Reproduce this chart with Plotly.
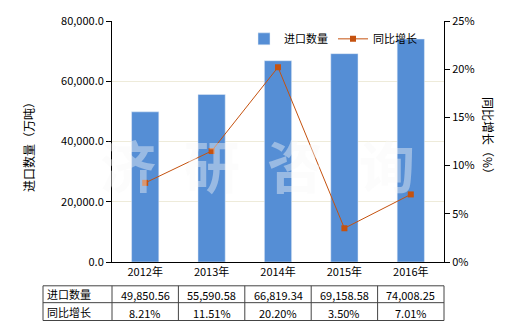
import plotly.graph_objects as go

categories = ["2012年", "2013年", "2014年", "2015年", "2016年"]
import_qty = [49850.56, 55590.58, 66819.34, 69158.58, 74008.25]
yoy_growth = [8.21, 11.51, 20.20, 3.50, 7.01]
qty_labels = ["49,850.56", "55,590.58", "66,819.34", "69,158.58", "74,008.25"]
growth_labels = ["8.21%", "11.51%", "20.20%", "3.50%", "7.01%"]
row_names = ["进口数量", "同比增长"]
watermark_chars = ["济", "研", "咨", "询"]

FONT = "Noto Sans CJK SC"
BAR_C = "#558ED5"
LINE_C = "#C5520F"

fig = go.Figure()
fig.add_trace(go.Bar(x=categories, y=import_qty, name="进口数量", marker_color=BAR_C,
                     width=0.41, yaxis="y"))
fig.add_trace(go.Scatter(x=categories, y=yoy_growth, name="同比增长", yaxis="y2",
                         mode="lines+markers", line=dict(color=LINE_C, width=1),
                         marker=dict(symbol="square", size=6, color=LINE_C)))

L, R, T, B = 112, 444, 19, 262
W, H = 520, 330
pw, ph = R - L, B - T

def px(x):
    return (x - L) / pw

def py(y):
    return (B - y) / ph

shapes = []
annotations = []

# watermark
wm_x = [128, 212, 295, 387]
for ch, xc in zip(watermark_chars, wm_x):
    annotations.append(dict(x=px(xc), y=py(163), xref="paper", yref="paper", text=ch,
                            xanchor="center", yanchor="middle",
                            showarrow=False,
                            font=dict(family=FONT, size=56, weight=700, color="rgba(248,248,248,0.42)")))

# table
col_edges = [43, 112, 178.4, 244.8, 311.2, 377.6, 444]
row_edges = [286, 303, 321]
lc = "#444444"
for yv in row_edges:
    shapes.append(dict(type="line", xref="paper", yref="paper", x0=px(col_edges[0]), x1=px(col_edges[-1]),
                       y0=py(yv), y1=py(yv), line=dict(color=lc, width=1)))
for xv in col_edges:
    shapes.append(dict(type="line", xref="paper", yref="paper", x0=px(xv), x1=px(xv),
                       y0=py(row_edges[0]), y1=py(row_edges[-1]), line=dict(color=lc, width=1)))
rows = [qty_labels, growth_labels]
for r, (name, vals) in enumerate(zip(row_names, rows)):
    yc = (row_edges[r] + row_edges[r + 1]) / 2
    annotations.append(dict(x=px(col_edges[0] + 2), y=py(yc), xref="paper", yref="paper", text=name,
                            showarrow=False, xanchor="left", yanchor="middle",
                            font=dict(family=FONT, size=11, color="#000")))
    for c, v in enumerate(vals):
        xc = (col_edges[c + 1] + col_edges[c + 2]) / 2
        annotations.append(dict(x=px(xc), y=py(yc + 1), xref="paper", yref="paper", text=v,
                                showarrow=False, xanchor="center", yanchor="middle",
                                font=dict(family=FONT, size=11, color="#000")))

# axis titles
annotations.append(dict(x=px(29), y=py(143), xref="paper", yref="paper", text="进口数量（万吨）",
                        xanchor="center", yanchor="middle",
                        textangle=-90, showarrow=False, font=dict(family=FONT, size=12, color="#000")))
annotations.append(dict(x=px(489), y=py(138), xref="paper", yref="paper", text="同比增长（%）",
                        xanchor="center", yanchor="middle",
                        textangle=90, showarrow=False, font=dict(family=FONT, size=12, color="#000")))

fig.update_layout(
    width=W, height=H,
    margin=dict(l=L, r=W - R, t=T, b=H - B, pad=0),
    paper_bgcolor="white", plot_bgcolor="white",
    font=dict(family=FONT, size=11, color="#000"),
    bargap=0.59,
    xaxis=dict(showline=True, linecolor="#000", linewidth=1, ticks="", showgrid=False,
               tickfont=dict(size=11), fixedrange=True),
    yaxis=dict(range=[0, 80000], dtick=20000, tickformat=",.1f", showline=True, linecolor="#000",
               ticks="outside", ticklen=5, tickcolor="#000", showgrid=True, gridcolor="#EEEBDA",
               zeroline=False, tickfont=dict(size=11)),
    yaxis2=dict(range=[0, 25], dtick=5, ticksuffix="%", overlaying="y", side="right",
                showline=True, linecolor="#000", ticks="outside", ticklen=5, tickcolor="#000",
                showgrid=False, zeroline=False, tickfont=dict(size=11)),
    showlegend=True,
    legend=dict(orientation="h", x=px(244), y=py(37), xanchor="left", yanchor="middle",
                bgcolor="rgba(0,0,0,0)", font=dict(size=11), itemwidth=30, tracegroupgap=0),
    shapes=shapes, annotations=annotations,
)

fig.write_html("out.html")
